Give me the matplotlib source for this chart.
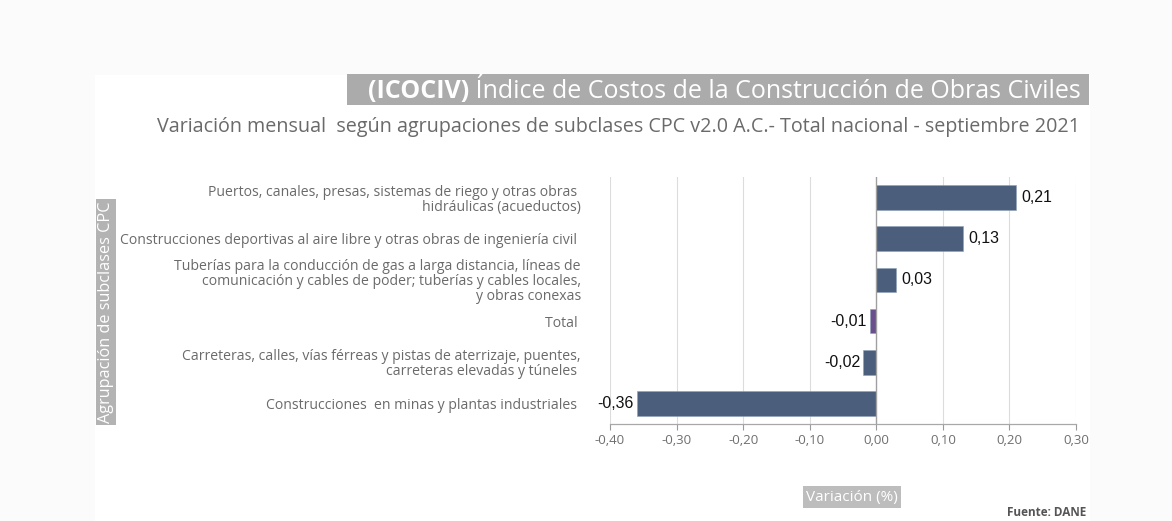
import matplotlib
matplotlib.use("Agg")
import matplotlib.pyplot as plt
from matplotlib.patches import Rectangle

categories = [
    "Puertos, canales, presas, sistemas de riego y otras obras \nhidráulicas (acueductos)",
    "Construcciones deportivas al aire libre y otras obras de ingeniería civil ",
    "Tuberías para la conducción de gas a larga distancia, líneas de\ncomunicación y cables de poder; tuberías y cables locales,\ny obras conexas",
    "Total ",
    "Carreteras, calles, vías férreas y pistas de aterrizaje, puentes,\ncarreteras elevadas y túneles ",
    "Construcciones  en minas y plantas industriales ",
]
values = [0.21, 0.13, 0.03, -0.01, -0.02, -0.36]
value_labels = ["0,21", "0,13", "0,03", "-0,01", "-0,02", "-0,36"]
xticks = [-0.40, -0.30, -0.20, -0.10, 0.00, 0.10, 0.20, 0.30]
xtick_labels = ["-0,40", "-0,30", "-0,20", "-0,10", "0,00", "0,10", "0,20", "0,30"]
bar_colors = ["#4b5e7c", "#4b5e7c", "#4b5e7c", "#6a4f8c", "#4b5e7c", "#4b5e7c"]

title_bold = "(ICOCIV)"
title_rest = " Índice de Costos de la Construcción de Obras Civiles"
subtitle = "Variación mensual  según agrupaciones de subclases CPC v2.0 A.C.- Total nacional - septiembre 2021"
ylabel = "Agrupación de subclases CPC"
xlabel = "Variación (%)"
source = "Fuente: DANE"

W, H = 1172, 521
fig = plt.figure(figsize=(W / 100, H / 100), dpi=100)
fig.patch.set_facecolor("#fbfbfb")

def fx(px):
    return px / W

def fy(py):
    return 1 - py / H

# white panel
fig.add_artist(Rectangle((fx(95), 0), fx(1090) - fx(95), fy(75), transform=fig.transFigure,
                         facecolor="white", edgecolor="none", zorder=0))

ax = fig.add_axes([fx(610), fy(424), fx(1076) - fx(610), fy(177) - fy(424)])
ax.set_facecolor("white")
ypos = list(range(len(values)))
ax.barh(ypos, values, height=0.6, color=bar_colors, edgecolor="#8fa0b8", linewidth=0.4, zorder=3)
ax.set_ylim(len(values) - 0.5, -0.5)
ax.set_xlim(-0.40, 0.30)
ax.set_xticks(xticks)
ax.set_xticklabels(xtick_labels, fontsize=9.5, color="#6f6f6f", family="Open Sans")
ax.set_yticks(ypos)
ax.set_yticklabels(categories, fontsize=10.1, color="#6a6a6a", family="Open Sans",
                   multialignment="right", linespacing=1.0)
ax.tick_params(axis="y", length=0, pad=21)
ax.tick_params(axis="x", length=4, color="#9a9a9a", width=0.8, pad=3.5)
for x in xticks:
    if x == 0:
        ax.axvline(x, color="#a0a0a0", linewidth=1.0, zorder=4)
    else:
        ax.axvline(x, color="#dcdcdc", linewidth=0.8, zorder=1)
for s in ["top", "right", "left"]:
    ax.spines[s].set_visible(False)
ax.spines["bottom"].set_color("#a8a8a8")
ax.spines["bottom"].set_linewidth(0.9)

for y, v, lab in zip(ypos, values, value_labels):
    if v >= 0:
        ax.annotate(lab, (v, y), xytext=(4, 0), textcoords="offset points", ha="left", va="center",
                    fontsize=11.5, color="#111111", family="Liberation Sans", zorder=5)
    else:
        ax.annotate(lab, (v, y), xytext=(-2, 0), textcoords="offset points", ha="right", va="center",
                    fontsize=11.5, color="#111111", family="Liberation Sans", zorder=5)

# title with box
fig.add_artist(Rectangle((fx(347), fy(105)), fx(1089) - fx(347), fy(74) - fy(105), transform=fig.transFigure,
                         facecolor="#ababab", edgecolor="none", zorder=1))
t_rest = fig.text(fx(1081), fy(91), title_rest, ha="right", va="center", fontsize=18,
                  color="white", family="Open Sans", zorder=2)
fig.canvas.draw()
r = fig.canvas.get_renderer()
bb = t_rest.get_window_extent(r)
fig.text(bb.x0 / W, fy(91), title_bold, ha="right", va="center", fontsize=18, fontweight="bold",
         color="white", family="Open Sans", zorder=2)

fig.text(fx(1080), fy(127), subtitle, ha="right", va="center", fontsize=14.2, color="#6a6a6a",
         family="Open Sans")

fig.text(fx(106), fy(312), ylabel, rotation=90, ha="center", va="center", fontsize=11.7, color="white",
         family="Open Sans",
         bbox=dict(boxstyle="square,pad=0.15", facecolor="#b3b3b3", edgecolor="none"))

fig.text(fx(852), fy(497), xlabel, ha="center", va="center", fontsize=11, color="white",
         family="Open Sans",
         bbox=dict(boxstyle="square,pad=0.2", facecolor="#bdbdbd", edgecolor="none"))

fig.text(fx(1086), fy(512), source, ha="right", va="center", fontsize=8.5, color="#555555",
         family="Open Sans", fontweight="bold")

fig.savefig("out.png", dpi=100, facecolor=fig.get_facecolor())
